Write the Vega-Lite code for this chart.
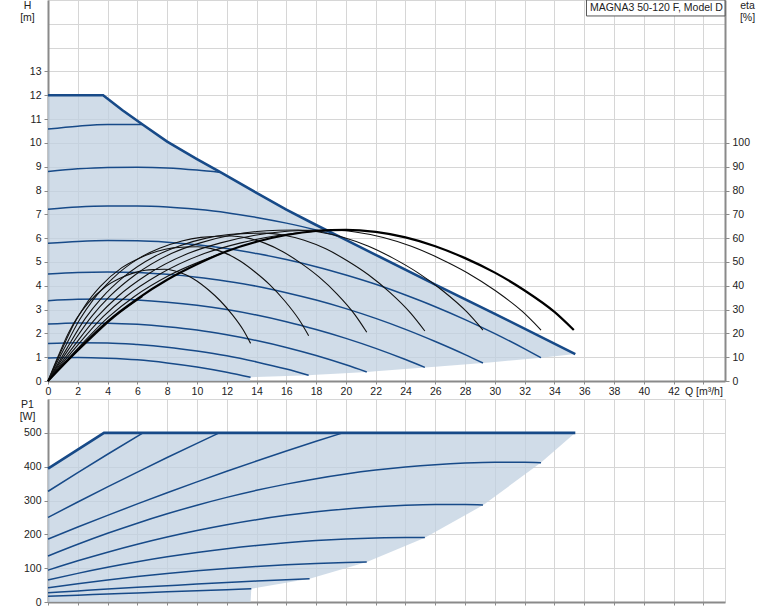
{
  "$schema": "https://vega.github.io/schema/vega-lite/v6.json",
  "autosize": {"type": "none"},
  "padding": {"left": 48, "top": 0, "right": 726, "bottom": 611},
  "background": "white",
  "config": {
    "font": "Liberation Sans",
    "view": {"stroke": "#d6d6d6", "strokeWidth": 1},
    "axis": {
      "labelFont": "Liberation Sans", "labelFontSize": 10.5, "labelColor": "#222",
      "titleFont": "Liberation Sans", "titleFontSize": 10.5, "titleFontWeight": "normal", "titleColor": "#222",
      "domainColor": "#8a8a8a", "domainWidth": 2, "tickColor": "#8a8a8a", "tickWidth": 1,
      "gridColor": "#d6d6d6", "gridWidth": 1
    }
  },
  "datasets": {
    "harea": [
      {"Q":0,"top":12,"bot":0},{"Q":3.7,"top":12,"bot":0},{"Q":5,"top":11.37,"bot":0},{"Q":6.35,"top":10.77,"bot":0},
      {"Q":8,"top":10.05,"bot":0},{"Q":10,"top":9.32,"bot":0},{"Q":11.6,"top":8.76,"bot":0},{"Q":13.55,"top":8.06,"bot":0},
      {"Q":13.6,"top":8.04,"bot":0.16},{"Q":14,"top":7.9,"bot":0.17},{"Q":16,"top":7.2,"bot":0.21},{"Q":17.5,"top":6.71,"bot":0.24},
      {"Q":18,"top":6.55,"bot":0.26},{"Q":19.6,"top":6.05,"bot":0.32},{"Q":21.4,"top":5.49,"bot":0.38},{"Q":22,"top":5.3,"bot":0.41},
      {"Q":25.3,"top":4.27,"bot":0.57},{"Q":26,"top":4.05,"bot":0.6},{"Q":29.2,"top":3.07,"bot":0.755},{"Q":30,"top":2.82,"bot":0.8},
      {"Q":33.1,"top":1.85,"bot":0.98},{"Q":35.4,"top":1.13,"bot":1.13}
    ],
    "hmax": [
      {"Q":0,"H":12},{"Q":3.7,"H":12},{"Q":5,"H":11.37},{"Q":6.35,"H":10.77},{"Q":8,"H":10.05},{"Q":10,"H":9.32},
      {"Q":11.6,"H":8.76},{"Q":14,"H":7.9},{"Q":16,"H":7.2},{"Q":18,"H":6.55},{"Q":19.6,"H":6.05},{"Q":22,"H":5.3},
      {"Q":26,"H":4.05},{"Q":30,"H":2.82},{"Q":35.4,"H":1.13}
    ],
    "hcurves": [
      {"c":"s1","Q":0,"H":0.97},{"c":"s1","Q":2,"H":0.99},{"c":"s1","Q":4,"H":0.96},{"c":"s1","Q":6,"H":0.89},{"c":"s1","Q":8,"H":0.76},{"c":"s1","Q":10,"H":0.59},{"c":"s1","Q":12,"H":0.37},{"c":"s1","Q":13.6,"H":0.16},
      {"c":"s2","Q":0,"H":1.58},{"c":"s2","Q":2,"H":1.61},{"c":"s2","Q":4,"H":1.6},{"c":"s2","Q":6,"H":1.53},{"c":"s2","Q":8,"H":1.42},{"c":"s2","Q":10,"H":1.26},{"c":"s2","Q":12,"H":1.06},{"c":"s2","Q":14,"H":0.8},{"c":"s2","Q":16,"H":0.5},{"c":"s2","Q":17.5,"H":0.24},
      {"c":"s3","Q":0,"H":2.39},{"c":"s3","Q":2,"H":2.44},{"c":"s3","Q":4,"H":2.43},{"c":"s3","Q":6,"H":2.38},{"c":"s3","Q":8,"H":2.28},{"c":"s3","Q":10,"H":2.14},{"c":"s3","Q":12,"H":1.94},{"c":"s3","Q":14,"H":1.7},{"c":"s3","Q":16,"H":1.41},{"c":"s3","Q":18,"H":1.07},{"c":"s3","Q":20,"H":0.68},{"c":"s3","Q":21.4,"H":0.38},
      {"c":"s4","Q":0,"H":3.37},{"c":"s4","Q":2,"H":3.43},{"c":"s4","Q":4,"H":3.44},{"c":"s4","Q":6,"H":3.4},{"c":"s4","Q":8,"H":3.31},{"c":"s4","Q":10,"H":3.18},{"c":"s4","Q":12,"H":3.0},{"c":"s4","Q":14,"H":2.77},{"c":"s4","Q":16,"H":2.49},{"c":"s4","Q":18,"H":2.16},{"c":"s4","Q":20,"H":1.79},{"c":"s4","Q":22,"H":1.37},{"c":"s4","Q":24,"H":0.9},{"c":"s4","Q":25.3,"H":0.57},
      {"c":"s5","Q":0,"H":4.49},{"c":"s5","Q":2,"H":4.56},{"c":"s5","Q":4,"H":4.58},{"c":"s5","Q":6,"H":4.56},{"c":"s5","Q":8,"H":4.48},{"c":"s5","Q":10,"H":4.36},{"c":"s5","Q":12,"H":4.19},{"c":"s5","Q":14,"H":3.98},{"c":"s5","Q":16,"H":3.71},{"c":"s5","Q":18,"H":3.4},{"c":"s5","Q":20,"H":3.04},{"c":"s5","Q":22,"H":2.63},{"c":"s5","Q":24,"H":2.17},{"c":"s5","Q":26,"H":1.66},{"c":"s5","Q":28,"H":1.11},{"c":"s5","Q":29.2,"H":0.755},
      {"c":"s6","Q":0,"H":5.78},{"c":"s6","Q":2,"H":5.86},{"c":"s6","Q":4,"H":5.9},{"c":"s6","Q":6,"H":5.89},{"c":"s6","Q":8,"H":5.83},{"c":"s6","Q":10,"H":5.72},{"c":"s6","Q":12,"H":5.56},{"c":"s6","Q":14,"H":5.35},{"c":"s6","Q":16,"H":5.1},{"c":"s6","Q":18,"H":4.8},{"c":"s6","Q":20,"H":4.45},{"c":"s6","Q":22,"H":4.06},{"c":"s6","Q":24,"H":3.61},{"c":"s6","Q":26,"H":3.12},{"c":"s6","Q":28,"H":2.58},{"c":"s6","Q":30,"H":1.99},{"c":"s6","Q":32,"H":1.35},{"c":"s6","Q":33.1,"H":0.98},
      {"c":"s7","Q":0,"H":7.21},{"c":"s7","Q":2,"H":7.31},{"c":"s7","Q":4,"H":7.35},{"c":"s7","Q":6,"H":7.35},{"c":"s7","Q":8,"H":7.31},{"c":"s7","Q":10,"H":7.21},{"c":"s7","Q":12,"H":7.07},{"c":"s7","Q":14,"H":6.87},{"c":"s7","Q":16,"H":6.63},{"c":"s7","Q":18,"H":6.34},{"c":"s7","Q":19.6,"H":6.06},
      {"c":"s8","Q":0,"H":8.8},{"c":"s8","Q":2,"H":8.91},{"c":"s8","Q":4,"H":8.97},{"c":"s8","Q":6,"H":8.98},{"c":"s8","Q":8,"H":8.95},{"c":"s8","Q":10,"H":8.86},{"c":"s8","Q":11.6,"H":8.76},
      {"c":"s9","Q":0,"H":10.58},{"c":"s9","Q":2,"H":10.7},{"c":"s9","Q":4,"H":10.77},{"c":"s9","Q":6.35,"H":10.77}
    ],
    "etamax": [
      {"Q":0,"eta":0},{"Q":2,"eta":13},{"Q":4,"eta":25},{"Q":6,"eta":34.5},{"Q":8,"eta":42.5},{"Q":10,"eta":49},{"Q":12,"eta":54.5},
      {"Q":14,"eta":58.5},{"Q":16,"eta":61.3},{"Q":18,"eta":63},{"Q":20,"eta":63.5},{"Q":22,"eta":62.6},{"Q":24,"eta":60.3},
      {"Q":26,"eta":56.6},{"Q":28,"eta":51.6},{"Q":30,"eta":45.5},{"Q":32,"eta":38},{"Q":34,"eta":29},{"Q":35.3,"eta":21.4}
    ],
    "eta": [
      {"c":"e331","Q":0,"eta":0},{"c":"e331","Q":1.66,"eta":14},{"c":"e331","Q":3.31,"eta":27},{"c":"e331","Q":4.69,"eta":35.5},{"c":"e331","Q":6.62,"eta":44.5},{"c":"e331","Q":9.39,"eta":53.5},{"c":"e331","Q":11.59,"eta":58},{"c":"e331","Q":13.9,"eta":61.2},{"c":"e331","Q":15.89,"eta":62.8},{"c":"e331","Q":17.54,"eta":63.3},{"c":"e331","Q":19.03,"eta":63.4},{"c":"e331","Q":20.62,"eta":62.6},{"c":"e331","Q":22.51,"eta":60.3},{"c":"e331","Q":24.39,"eta":56.6},{"c":"e331","Q":26.25,"eta":51.6},{"c":"e331","Q":28.14,"eta":45.5},{"c":"e331","Q":30.02,"eta":38},{"c":"e331","Q":31.88,"eta":29},{"c":"e331","Q":33.1,"eta":21.4},
      {"c":"e292","Q":0,"eta":0},{"c":"e292","Q":1.46,"eta":14},{"c":"e292","Q":2.92,"eta":27},{"c":"e292","Q":4.14,"eta":35.5},{"c":"e292","Q":5.84,"eta":44.5},{"c":"e292","Q":8.28,"eta":53.5},{"c":"e292","Q":10.22,"eta":58},{"c":"e292","Q":12.26,"eta":61.2},{"c":"e292","Q":14.02,"eta":62.8},{"c":"e292","Q":15.48,"eta":63.3},{"c":"e292","Q":16.79,"eta":63.4},{"c":"e292","Q":18.19,"eta":62.6},{"c":"e292","Q":19.86,"eta":60.3},{"c":"e292","Q":21.52,"eta":56.6},{"c":"e292","Q":23.16,"eta":51.6},{"c":"e292","Q":24.82,"eta":45.5},{"c":"e292","Q":26.48,"eta":38},{"c":"e292","Q":28.12,"eta":29},{"c":"e292","Q":29.2,"eta":21.4},
      {"c":"e253","Q":0,"eta":0},{"c":"e253","Q":1.27,"eta":13.7},{"c":"e253","Q":2.53,"eta":26.5},{"c":"e253","Q":3.59,"eta":34.8},{"c":"e253","Q":5.06,"eta":43.6},{"c":"e253","Q":7.18,"eta":52.4},{"c":"e253","Q":8.86,"eta":56.8},{"c":"e253","Q":10.63,"eta":60},{"c":"e253","Q":12.14,"eta":61.5},{"c":"e253","Q":13.41,"eta":62},{"c":"e253","Q":14.55,"eta":62.1},{"c":"e253","Q":15.76,"eta":61.3},{"c":"e253","Q":17.2,"eta":59.1},{"c":"e253","Q":18.65,"eta":55.5},{"c":"e253","Q":20.06,"eta":50.6},{"c":"e253","Q":21.51,"eta":44.6},{"c":"e253","Q":22.95,"eta":37.2},{"c":"e253","Q":24.36,"eta":28.4},{"c":"e253","Q":25.3,"eta":21},
      {"c":"e214","Q":0,"eta":0},{"c":"e214","Q":1.07,"eta":13.4},{"c":"e214","Q":2.14,"eta":25.9},{"c":"e214","Q":3.03,"eta":34.1},{"c":"e214","Q":4.28,"eta":42.7},{"c":"e214","Q":6.07,"eta":51.4},{"c":"e214","Q":7.49,"eta":55.7},{"c":"e214","Q":8.99,"eta":58.8},{"c":"e214","Q":10.27,"eta":60.3},{"c":"e214","Q":11.34,"eta":60.8},{"c":"e214","Q":12.31,"eta":60.9},{"c":"e214","Q":13.33,"eta":60.1},{"c":"e214","Q":14.55,"eta":57.9},{"c":"e214","Q":15.77,"eta":54.3},{"c":"e214","Q":16.97,"eta":49.5},{"c":"e214","Q":18.19,"eta":43.7},{"c":"e214","Q":19.41,"eta":36.5},{"c":"e214","Q":20.61,"eta":27.8},{"c":"e214","Q":21.4,"eta":20.5},
      {"c":"e175","Q":0,"eta":0},{"c":"e175","Q":0.88,"eta":12.5},{"c":"e175","Q":1.75,"eta":24},{"c":"e175","Q":2.48,"eta":31.6},{"c":"e175","Q":3.5,"eta":39.6},{"c":"e175","Q":4.96,"eta":47.6},{"c":"e175","Q":6.13,"eta":51.6},{"c":"e175","Q":7.35,"eta":54.5},{"c":"e175","Q":8.4,"eta":55.9},{"c":"e175","Q":9.28,"eta":56.3},{"c":"e175","Q":10.06,"eta":56.4},{"c":"e175","Q":10.9,"eta":55.7},{"c":"e175","Q":11.9,"eta":53.7},{"c":"e175","Q":12.9,"eta":50.4},{"c":"e175","Q":13.88,"eta":45.9},{"c":"e175","Q":14.88,"eta":40.5},{"c":"e175","Q":15.87,"eta":33.8},{"c":"e175","Q":16.85,"eta":25.8},{"c":"e175","Q":17.5,"eta":19},
      {"c":"e136","Q":0,"eta":0},{"c":"e136","Q":0.68,"eta":10.4},{"c":"e136","Q":1.36,"eta":20},{"c":"e136","Q":1.93,"eta":26.3},{"c":"e136","Q":2.72,"eta":32.9},{"c":"e136","Q":3.86,"eta":39.6},{"c":"e136","Q":4.76,"eta":42.9},{"c":"e136","Q":5.71,"eta":45.3},{"c":"e136","Q":6.53,"eta":46.5},{"c":"e136","Q":7.21,"eta":46.8},{"c":"e136","Q":7.82,"eta":46.9},{"c":"e136","Q":8.47,"eta":46.3},{"c":"e136","Q":9.25,"eta":44.6},{"c":"e136","Q":10.02,"eta":41.9},{"c":"e136","Q":10.78,"eta":38.2},{"c":"e136","Q":11.56,"eta":33.7},{"c":"e136","Q":12.34,"eta":28.1},{"c":"e136","Q":13.1,"eta":21.5},{"c":"e136","Q":13.6,"eta":15.8},
      {"c":"e370","Q":0,"eta":0},{"c":"e370","Q":1.85,"eta":14},{"c":"e370","Q":3.7,"eta":27},{"c":"e370","Q":5.24,"eta":35.5},{"c":"e370","Q":7.4,"eta":44.5},{"c":"e370","Q":10.49,"eta":53.5},{"c":"e370","Q":12.95,"eta":58},{"c":"e370","Q":15.54,"eta":61.2},{"c":"e370","Q":17.76,"eta":62.8},{"c":"e370","Q":19.6,"eta":63.3},
      {"c":"e409","Q":0,"eta":0},{"c":"e409","Q":2.05,"eta":14},{"c":"e409","Q":4.09,"eta":27},{"c":"e409","Q":5.8,"eta":35.5},{"c":"e409","Q":8.18,"eta":44.5},{"c":"e409","Q":11.6,"eta":53.5},
      {"c":"e448","Q":0,"eta":0},{"c":"e448","Q":2.24,"eta":14},{"c":"e448","Q":4.48,"eta":27},{"c":"e448","Q":6.35,"eta":35.5}
    ],
    "parea": [
      {"Q":0,"top":394,"bot":0},{"Q":3.76,"top":500,"bot":0},{"Q":13.6,"top":500,"bot":0},{"Q":13.65,"top":500,"bot":39},
      {"Q":17.56,"top":500,"bot":69},{"Q":21.4,"top":500,"bot":118},{"Q":25.3,"top":500,"bot":190},{"Q":29.2,"top":500,"bot":286},
      {"Q":33.1,"top":500,"bot":412},{"Q":35.4,"top":500,"bot":500}
    ],
    "pmax": [
      {"Q":0,"P":394},{"Q":3.76,"P":500},{"Q":35.4,"P":500}
    ],
    "pcurves": [
      {"c":"p1","Q":0,"P":17},{"c":"p1","Q":2,"P":20.3},{"c":"p1","Q":4,"P":23.6},{"c":"p1","Q":6,"P":26.9},{"c":"p1","Q":8,"P":30.1},{"c":"p1","Q":10,"P":33.3},{"c":"p1","Q":12,"P":36.5},{"c":"p1","Q":13.65,"P":39.1},
      {"c":"p2","Q":0,"P":27},{"c":"p2","Q":2,"P":32.6},{"c":"p2","Q":4,"P":38.1},{"c":"p2","Q":6,"P":43.3},{"c":"p2","Q":8,"P":48.2},{"c":"p2","Q":10,"P":53},{"c":"p2","Q":12,"P":57.5},{"c":"p2","Q":14,"P":61.9},{"c":"p2","Q":16,"P":65.9},{"c":"p2","Q":17.56,"P":69},
      {"c":"p3","Q":0,"P":42},{"c":"p3","Q":2,"P":54.1},{"c":"p3","Q":4,"P":65.2},{"c":"p3","Q":6,"P":75.3},{"c":"p3","Q":8,"P":84.3},{"c":"p3","Q":10,"P":92.3},{"c":"p3","Q":12,"P":99.2},{"c":"p3","Q":14,"P":105.1},{"c":"p3","Q":16,"P":110},{"c":"p3","Q":18,"P":113.9},{"c":"p3","Q":20,"P":116.7},{"c":"p3","Q":21.4,"P":118},
      {"c":"p4","Q":0,"P":65},{"c":"p4","Q":2,"P":84.6},{"c":"p4","Q":4,"P":102.5},{"c":"p4","Q":6,"P":118.8},{"c":"p4","Q":8,"P":133.4},{"c":"p4","Q":10,"P":146.3},{"c":"p4","Q":12,"P":157.7},{"c":"p4","Q":14,"P":167.3},{"c":"p4","Q":16,"P":175.3},{"c":"p4","Q":18,"P":181.7},{"c":"p4","Q":20,"P":186.4},{"c":"p4","Q":22,"P":189.4},{"c":"p4","Q":24,"P":190.8},{"c":"p4","Q":25.3,"P":190.8},
      {"c":"p5","Q":0,"P":94},{"c":"p5","Q":2,"P":121.7},{"c":"p5","Q":4,"P":147.3},{"c":"p5","Q":6,"P":170.8},{"c":"p5","Q":8,"P":192.1},{"c":"p5","Q":10,"P":211.3},{"c":"p5","Q":12,"P":228.4},{"c":"p5","Q":14,"P":243.3},{"c":"p5","Q":16,"P":256.1},{"c":"p5","Q":18,"P":266.7},{"c":"p5","Q":20,"P":275.2},{"c":"p5","Q":22,"P":281.6},{"c":"p5","Q":24,"P":285.8},{"c":"p5","Q":26,"P":287.9},{"c":"p5","Q":28,"P":287.9},{"c":"p5","Q":29.2,"P":286.8},
      {"c":"p6","Q":0,"P":136},{"c":"p6","Q":2,"P":170.6},{"c":"p6","Q":4,"P":203},{"c":"p6","Q":6,"P":233},{"c":"p6","Q":8,"P":260.7},{"c":"p6","Q":10,"P":286.1},{"c":"p6","Q":12,"P":309.2},{"c":"p6","Q":14,"P":330},{"c":"p6","Q":16,"P":348.4},{"c":"p6","Q":18,"P":364.6},{"c":"p6","Q":20,"P":378.4},{"c":"p6","Q":22,"P":389.9},{"c":"p6","Q":24,"P":399.1},{"c":"p6","Q":26,"P":406},{"c":"p6","Q":28,"P":410.6},{"c":"p6","Q":30,"P":412.9},{"c":"p6","Q":32,"P":412.9},{"c":"p6","Q":33.1,"P":411.9},
      {"c":"p7","Q":0,"P":186},{"c":"p7","Q":2,"P":221.5},{"c":"p7","Q":4,"P":256.1},{"c":"p7","Q":6,"P":289.9},{"c":"p7","Q":8,"P":322.9},{"c":"p7","Q":10,"P":355},{"c":"p7","Q":12,"P":386.3},{"c":"p7","Q":14,"P":416.7},{"c":"p7","Q":16,"P":446.2},{"c":"p7","Q":18,"P":474.9},{"c":"p7","Q":19.8,"P":500},
      {"c":"p8","Q":0,"P":250},{"c":"p8","Q":2,"P":295.6},{"c":"p8","Q":4,"P":340.2},{"c":"p8","Q":6,"P":384},{"c":"p8","Q":8,"P":427},{"c":"p8","Q":10,"P":469},{"c":"p8","Q":11.5,"P":500},
      {"c":"p9","Q":0,"P":327},{"c":"p9","Q":2,"P":382.3},{"c":"p9","Q":4,"P":436.7},{"c":"p9","Q":6.38,"P":500}
    ]
  },
  "bounds": "flush",
  "spacing": 18,
  "vconcat": [
    {
      "width": 677,
      "height": 381,
      "resolve": {"scale": {"y": "independent"}},
      "layer": [
        {
          "layer": [
            {
              "data": {"name": "harea"},
              "mark": {"type": "area", "fill": "#c0d0e0", "fillOpacity": 0.75},
              "encoding": {
                "x": {"field": "Q", "type": "quantitative", "scale": {"domain": [0, 45.45], "nice": false, "zero": false},
                  "axis": {"values": [0,2,4,6,8,10,12,14,16,18,20,22,24,26,28,30,32,34,36,38,40,42,44], "tickCount": 100, "format": "d",
                    "labelExpr": "datum.value == 44 ? 'Q [m³/h]' : datum.label",
                    "title": null, "tickSize": 3, "labelPadding": 2, "grid": true, "labelFlush": false, "labelOverlap": false}},
                "y": {"field": "top", "type": "quantitative", "scale": {"domain": [0, 16], "nice": false},
                  "axis": {"values": [0,1,2,3,4,5,6,7,8,9,10,11,12,13,14,15,16], "tickCount": 100, "format": "d",
                    "labelExpr": "datum.value <= 13 ? datum.label : ''",
                    "tickOpacity": {"condition": {"test": "datum.value > 13", "value": 0}, "value": 1},
                    "title": ["H", "[m]"], "titleAngle": 0, "titleAlign": "center", "titleBaseline": "top",
                    "titleX": -21, "titleY": 0, "titleLineHeight": 12, "tickSize": 4, "labelPadding": 3, "grid": true, "labelOverlap": false}},
                "y2": {"field": "bot"}
              }
            },
            {
              "data": {"name": "hcurves"},
              "mark": {"type": "line", "color": "#174a88", "strokeWidth": 1.5, "interpolate": "monotone"},
              "encoding": {
                "x": {"field": "Q", "type": "quantitative"},
                "y": {"field": "H", "type": "quantitative"},
                "detail": {"field": "c"}
              }
            },
            {
              "data": {"name": "hmax"},
              "mark": {"type": "line", "color": "#174a88", "strokeWidth": 2.6},
              "encoding": {
                "x": {"field": "Q", "type": "quantitative"},
                "y": {"field": "H", "type": "quantitative"}
              }
            },
            {
              "data": {"values": [{"label": "MAGNA3 50-120 F, Model D"}]},
              "mark": {"type": "rect", "fill": "white", "stroke": "#555", "strokeWidth": 1},
              "encoding": {
                "x": {"datum": 36.15, "type": "quantitative"},
                "x2": {"datum": 45.45},
                "y": {"datum": 16, "type": "quantitative"},
                "y2": {"datum": 15.33}
              }
            },
            {
              "data": {"values": [{"label": "MAGNA3 50-120 F, Model D"}]},
              "mark": {"type": "text", "align": "left", "baseline": "middle", "fontSize": 10.5, "color": "#222", "font": "Liberation Sans"},
              "encoding": {
                "x": {"datum": 36.38, "type": "quantitative"},
                "y": {"datum": 15.66, "type": "quantitative"},
                "text": {"field": "label"}
              }
            }
          ]
        },
        {
          "layer": [
            {
              "data": {"name": "eta"},
              "mark": {"type": "line", "color": "#111", "strokeWidth": 1.1, "interpolate": "monotone"},
              "encoding": {
                "x": {"field": "Q", "type": "quantitative"},
                "y": {"field": "eta", "type": "quantitative", "scale": {"domain": [0, 160], "nice": false},
                  "axis": {"orient": "right", "values": [0,10,20,30,40,50,60,70,80,90,100], "tickCount": 100, "format": "d",
                    "title": ["eta", "[%]"], "titleAngle": 0, "titleAlign": "center", "titleBaseline": "top",
                    "titleX": 22, "titleY": 0, "titleLineHeight": 12, "grid": false, "tickSize": 4, "labelPadding": 3, "labelOverlap": false}},
                "detail": {"field": "c"}
              }
            },
            {
              "data": {"name": "etamax"},
              "mark": {"type": "line", "color": "#000", "strokeWidth": 2.2, "interpolate": "monotone"},
              "encoding": {
                "x": {"field": "Q", "type": "quantitative"},
                "y": {"field": "eta", "type": "quantitative"}
              }
            }
          ]
        }
      ]
    },
    {
      "width": 677,
      "height": 203,
      "layer": [
        {
          "data": {"name": "parea"},
          "mark": {"type": "area", "fill": "#c0d0e0", "fillOpacity": 0.75},
          "encoding": {
            "x": {"field": "Q", "type": "quantitative", "scale": {"domain": [0, 45.45], "nice": false, "zero": false},
              "axis": {"values": [0,2,4,6,8,10,12,14,16,18,20,22,24,26,28,30,32,34,36,38,40,42,44], "tickCount": 100,
                "labels": false, "title": null, "tickSize": 3, "grid": true}},
            "y": {"field": "top", "type": "quantitative", "scale": {"domain": [0, 600], "nice": false},
              "axis": {"values": [0,100,200,300,400,500,600], "tickCount": 100, "format": "d",
                "labelExpr": "datum.value <= 500 ? datum.label : ''",
                "tickOpacity": {"condition": {"test": "datum.value > 500", "value": 0}, "value": 1},
                "title": ["P1", "[W]"], "titleAngle": 0, "titleAlign": "center", "titleBaseline": "top",
                "titleX": -21, "titleY": 0, "titleLineHeight": 12, "tickSize": 4, "labelPadding": 3, "grid": true, "labelOverlap": false}},
            "y2": {"field": "bot"}
          }
        },
        {
          "data": {"name": "pcurves"},
          "mark": {"type": "line", "color": "#174a88", "strokeWidth": 1.5, "interpolate": "monotone"},
          "encoding": {
            "x": {"field": "Q", "type": "quantitative"},
            "y": {"field": "P", "type": "quantitative"},
            "detail": {"field": "c"}
          }
        },
        {
          "data": {"name": "pmax"},
          "mark": {"type": "line", "color": "#174a88", "strokeWidth": 2.6},
          "encoding": {
            "x": {"field": "Q", "type": "quantitative"},
            "y": {"field": "P", "type": "quantitative"}
          }
        }
      ]
    }
  ]
}
